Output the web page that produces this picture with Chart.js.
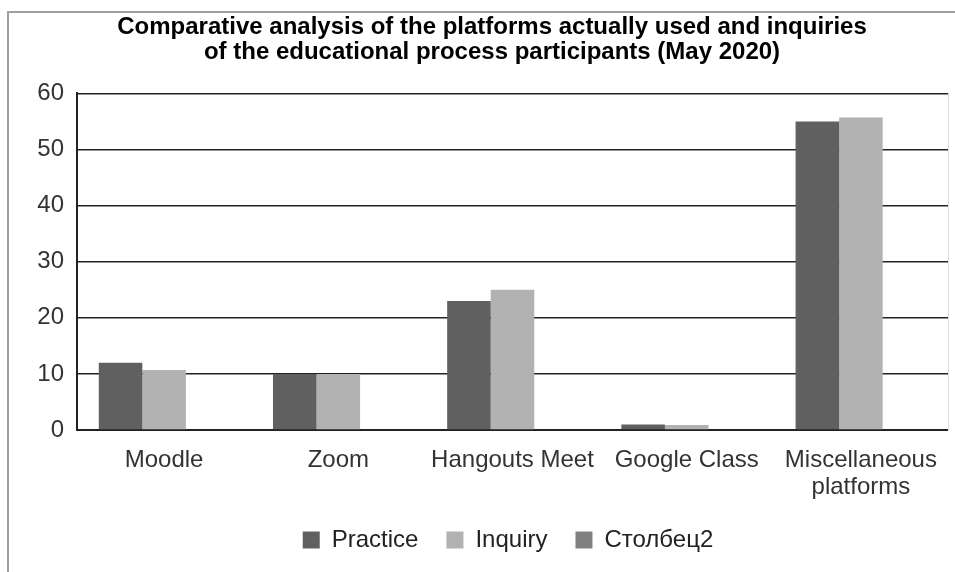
<!DOCTYPE html>
<html>
<head>
<meta charset="utf-8">
<script src="https://cdn.jsdelivr.net/npm/chart.js@4"></script>
<style>
  body { margin: 0; background: #fff; }
  #wrap { position: relative; width: 955px; height: 572px; }
  #frame { position: absolute; left: 7px; top: 11px; right: 0; bottom: 0;
           border-left: 2px solid #a0a0a0; border-top: 2px solid #a0a0a0; }
  canvas { position: absolute; left: 0; top: 0; }
</style>
</head>
<body>
<div id="wrap">
  <div id="frame"></div>
  <canvas id="C" width="955" height="572"></canvas>
</div>
<script>
const categories = ["Moodle", "Zoom", "Hangouts Meet", "Google Class", ["Miscellaneous", "platforms"]];
const practice = [12, 10, 23, 1, 55];
const inquiry = [10.7, 10, 25, 0.9, 55.7];
const stolbec2 = [null, null, null, null, null];

const font = "'Liberation Sans', Arial, sans-serif";

// nudge title and legend to sit centred like the original
const shiftBoxes = {
  id: "shiftBoxes",
  afterLayout(chart) {
    chart.titleBlock.left += 14;
    chart.titleBlock.right += 14;
    chart.legend.left += 30;
    chart.legend.right += 30;
  }
};

let ctx = document.getElementById("C").getContext("2d");
let chart = new Chart(ctx, {
  type: "bar",
  data: {
    labels: categories,
    datasets: [
      { label: "Practice", data: practice, backgroundColor: "#606060" },
      { label: "Inquiry", data: inquiry, backgroundColor: "#b2b2b2" },
      { label: "Столбец2", data: stolbec2, backgroundColor: "#808080" }
    ]
  },
  plugins: [shiftBoxes],
  options: {
    responsive: false,
    animation: false,
    layout: { padding: { left: 8, right: 7, top: 0, bottom: 10 } },
    datasets: { bar: { categoryPercentage: 0.75, barPercentage: 1.0 } },
    scales: {
      x: {
        afterFit: (s) => { s.height = 70; },
        grid: { display: false, drawTicks: false },
        border: { color: "#222", width: 2 },
        ticks: { color: "#333", font: { family: font, size: 24, lineHeight: 1.12 }, padding: 17, maxRotation: 0, autoSkip: false }
      },
      y: {
        min: 0, max: 60,
        afterFit: (s) => { s.width = 69; },
        grid: { color: "#222", lineWidth: 1.5, drawTicks: false },
        border: { color: "#222", width: 2 },
        ticks: { stepSize: 10, color: "#333", font: { family: font, size: 24 }, padding: 13 }
      },
      y2: {
        position: "right", min: 0, max: 60,
        grid: { display: false },
        border: { color: "#ddd", width: 1 },
        ticks: { display: false },
        afterFit: (s) => { s.width = 0; }
      }
    },
    plugins: {
      title: {
        display: true,
        text: ["Comparative analysis of the platforms actually used and inquiries",
               "of the educational process participants (May 2020)"],
        color: "#000",
        font: { family: font, size: 24, weight: "bold", lineHeight: 1.05 },
        padding: { top: 15, bottom: 28 }
      },
      legend: {
        position: "bottom",
        labels: {
          color: "#222",
          boxWidth: 17, boxHeight: 17,
          padding: 28,
          font: { family: font, size: 24 }
        }
      },
      tooltip: { enabled: false }
    }
  }
});
</script>
</body>
</html>
